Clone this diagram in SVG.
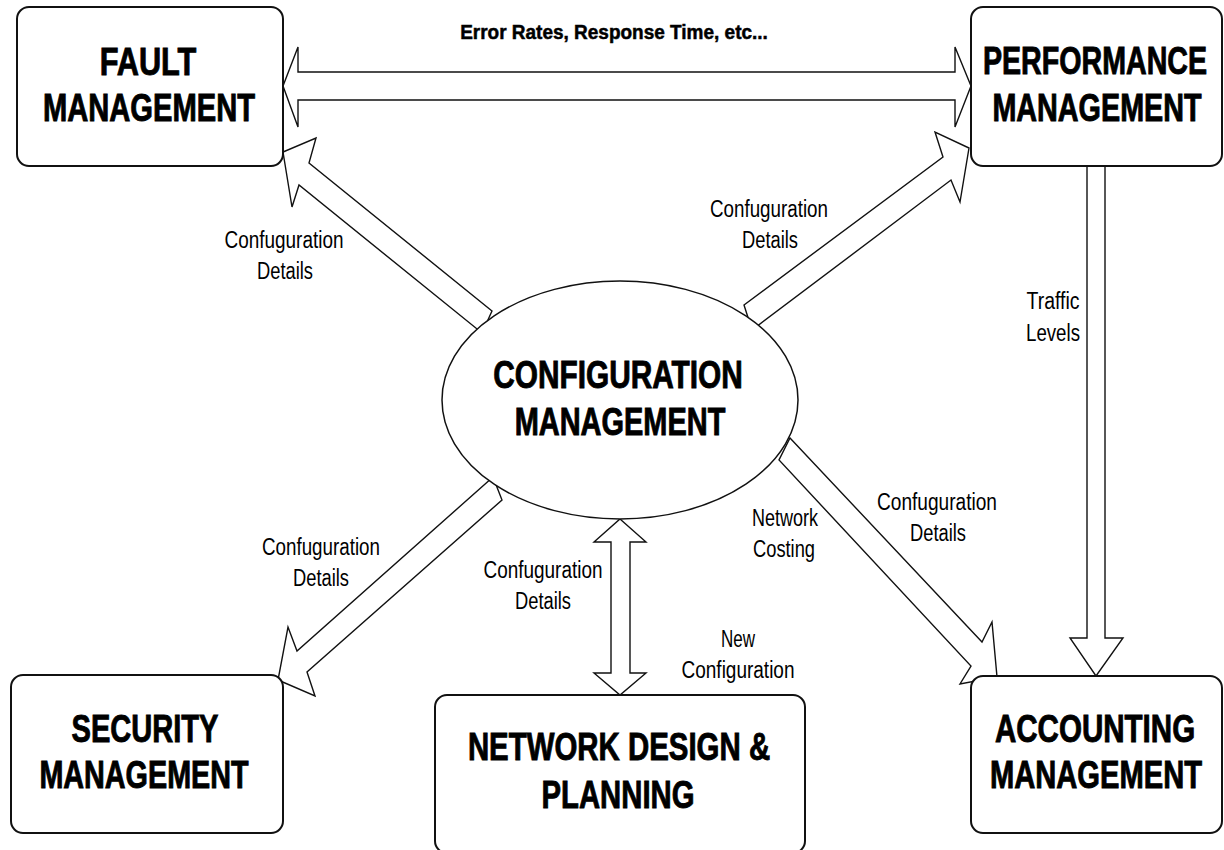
<svg xmlns="http://www.w3.org/2000/svg" width="1224" height="850" viewBox="0 0 1224 850">
<style>
.box{fill:#fff;stroke:#111;stroke-width:2}
.arr{fill:#fff;stroke:#111;stroke-width:1.4;stroke-linejoin:miter}
.title{font-family:"Liberation Sans",Arial,sans-serif;font-weight:bold;font-size:38px;fill:#000;stroke:#000;stroke-width:0.9;text-anchor:middle}
.lbl{font-family:"Liberation Sans",Arial,sans-serif;font-size:23px;fill:#000;text-anchor:middle}
.top{font-family:"Liberation Sans",Arial,sans-serif;font-weight:bold;font-size:20px;fill:#000;stroke:#000;stroke-width:0.5;text-anchor:middle}
</style>
<rect width="1224" height="850" fill="#fff"/>
<g id="connectors">
<polygon class="arr" points="283,86 298,47 298,72 955,72 955,47 971,86 955,127 955,100 298,100 298,127"/>
<polygon class="arr" points="1087,166 1087,638 1070,638 1096,676 1123,638 1105,638 1105,166"/>
<polygon class="arr" points="620,519 646,542 630,542 630,673 646,673 620,695 594,673 611,673 611,542 594,542"/>
<polygon class="arr" points="492,311 309,163 316,138 283,152 292,207 299,185 482,333"/>
<polygon class="arr" points="744,305 943,157 935,132 969,148 960,202 951,180 752,330"/>
<polygon class="arr" points="493,477 297,651 288,627 278,680 315,696 307,672 502,500"/>
<polygon class="arr" points="790,438 982,642 992,622 997,677 960,684 971,666 779,460"/>
<text class="top" transform="translate(614,39) scale(0.85,1)" textLength="362" lengthAdjust="spacingAndGlyphs">Error Rates, Response Time, etc...</text>
<text class="lbl" x="284" y="248" textLength="119" lengthAdjust="spacingAndGlyphs">Confuguration</text>
<text class="lbl" x="285" y="279" textLength="56" lengthAdjust="spacingAndGlyphs">Details</text>
<text class="lbl" x="769" y="217" textLength="118" lengthAdjust="spacingAndGlyphs">Confuguration</text>
<text class="lbl" x="770" y="248" textLength="56" lengthAdjust="spacingAndGlyphs">Details</text>
<text class="lbl" x="1053" y="309" textLength="53" lengthAdjust="spacingAndGlyphs">Traffic</text>
<text class="lbl" x="1053" y="341" textLength="54" lengthAdjust="spacingAndGlyphs">Levels</text>
<text class="lbl" x="321" y="555" textLength="118" lengthAdjust="spacingAndGlyphs">Confuguration</text>
<text class="lbl" x="321" y="586" textLength="56" lengthAdjust="spacingAndGlyphs">Details</text>
<text class="lbl" x="543" y="578" textLength="119" lengthAdjust="spacingAndGlyphs">Confuguration</text>
<text class="lbl" x="543" y="609" textLength="56" lengthAdjust="spacingAndGlyphs">Details</text>
<text class="lbl" x="785" y="526" textLength="66" lengthAdjust="spacingAndGlyphs">Network</text>
<text class="lbl" x="784" y="557" textLength="62" lengthAdjust="spacingAndGlyphs">Costing</text>
<text class="lbl" x="738" y="647" textLength="34" lengthAdjust="spacingAndGlyphs">New</text>
<text class="lbl" x="738" y="678" textLength="113" lengthAdjust="spacingAndGlyphs">Configuration</text>
<text class="lbl" x="937" y="510" textLength="120" lengthAdjust="spacingAndGlyphs">Confuguration</text>
<text class="lbl" x="938" y="541" textLength="56" lengthAdjust="spacingAndGlyphs">Details</text>
</g>
<g id="fault">
<rect class="box" x="17" y="7" width="266" height="159" rx="12"/>
<text class="title" transform="translate(148,75) scale(0.75,1)" textLength="129" lengthAdjust="spacingAndGlyphs">FAULT</text>
<text class="title" transform="translate(149,121) scale(0.75,1)" textLength="283" lengthAdjust="spacingAndGlyphs">MANAGEMENT</text>
</g>
<g id="performance">
<rect class="box" x="971" y="7" width="251" height="159" rx="12"/>
<text class="title" transform="translate(1095,74) scale(0.75,1)" textLength="299" lengthAdjust="spacingAndGlyphs">PERFORMANCE</text>
<text class="title" transform="translate(1097,121) scale(0.75,1)" textLength="279" lengthAdjust="spacingAndGlyphs">MANAGEMENT</text>
</g>
<g id="configuration">
<ellipse class="box" cx="620" cy="400" rx="178" ry="119" style="stroke-width:1.5"/>
<text class="title" transform="translate(618,388) scale(0.75,1)" textLength="333" lengthAdjust="spacingAndGlyphs">CONFIGURATION</text>
<text class="title" transform="translate(620,435) scale(0.75,1)" textLength="281" lengthAdjust="spacingAndGlyphs">MANAGEMENT</text>
</g>
<g id="security">
<rect class="box" x="11" y="675" width="272" height="158" rx="12"/>
<text class="title" transform="translate(145,742) scale(0.75,1)" textLength="196" lengthAdjust="spacingAndGlyphs">SECURITY</text>
<text class="title" transform="translate(144,788) scale(0.75,1)" textLength="279" lengthAdjust="spacingAndGlyphs">MANAGEMENT</text>
</g>
<g id="network-design">
<rect class="box" x="435" y="695" width="370" height="158" rx="12"/>
<text class="title" transform="translate(619,760) scale(0.75,1)" textLength="403" lengthAdjust="spacingAndGlyphs">NETWORK DESIGN &amp;</text>
<text class="title" transform="translate(618,808) scale(0.75,1)" textLength="204" lengthAdjust="spacingAndGlyphs">PLANNING</text>
</g>
<g id="accounting">
<rect class="box" x="971" y="676" width="251" height="157" rx="12"/>
<text class="title" transform="translate(1095,742) scale(0.75,1)" textLength="267" lengthAdjust="spacingAndGlyphs">ACCOUNTING</text>
<text class="title" transform="translate(1096,788) scale(0.75,1)" textLength="283" lengthAdjust="spacingAndGlyphs">MANAGEMENT</text>
</g>
</svg>
